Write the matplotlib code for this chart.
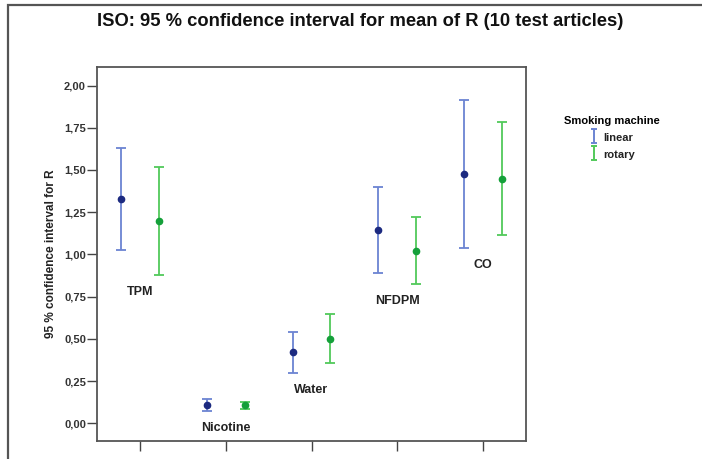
import matplotlib
matplotlib.use("Agg")
import matplotlib.pyplot as plt
from matplotlib.path import Path
from matplotlib.lines import Line2D
from matplotlib.patches import Rectangle
import numpy as np

categories = ["TPM", "Nicotine", "Water", "NFDPM", "CO"]
series_names = ["linear", "rotary"]
linear_mean = [1.33, 0.108, 0.420, 1.145, 1.479]
linear_low = [1.027, 0.073, 0.300, 0.890, 1.039]
linear_high = [1.629, 0.142, 0.539, 1.400, 1.917]
rotary_mean = [1.200, 0.108, 0.501, 1.021, 1.449]
rotary_low = [0.880, 0.083, 0.357, 0.825, 1.114]
rotary_high = [1.518, 0.128, 0.646, 1.222, 1.783]
yticks = [0.0, 0.25, 0.5, 0.75, 1.0, 1.25, 1.5, 1.75, 2.0]
ytick_labels = ["0,00", "0,25", "0,50", "0,75", "1,00", "1,25", "1,50", "1,75", "2,00"]

FONT = ["Liberation Sans", "DejaVu Sans"]
plt.rcParams["font.family"] = FONT

W, H = 702, 459
fig = plt.figure(figsize=(W / 100, H / 100), dpi=100)
fig.patch.set_facecolor("white")

# outer frame
fig.patches.append(Rectangle((8 / W, -0.2), 1.2, 1.2 - 5 / H, transform=fig.transFigure,
                             fill=False, edgecolor="#555555", linewidth=1.6))

ax = fig.add_axes([97 / W, 18 / H, (526 - 97) / W, (441 - 67) / H])

x = np.arange(1, len(categories) + 1)
off = 0.22
blue_line, blue_mark = "#6b84d2", "#1c2a80"
green_line, green_mark = "#52c95a", "#15a03a"

for xs, m, lo, hi, lc, mc in [
    (x - off, linear_mean, linear_low, linear_high, blue_line, blue_mark),
    (x + off, rotary_mean, rotary_low, rotary_high, green_line, green_mark),
]:
    m = np.array(m); lo = np.array(lo); hi = np.array(hi)
    ax.errorbar(xs, m, yerr=[m - lo, hi - m], fmt="o", color=mc, ecolor=lc,
                elinewidth=1.3, capsize=3.5, capthick=1.3, markersize=4.5, zorder=3)

# category labels under each pair
mins = np.minimum(linear_low, rotary_low)
for xi, cat, mn in zip(x, categories, mins):
    ax.annotate(cat, (xi, mn), xytext=(0, -12.5), textcoords="offset points",
                ha="center", va="center", fontsize=9, fontweight="bold", color="#222222")

ax.set_xlim(0.5, len(categories) + 0.5)
ax.set_ylim(-0.105, 2.11)
ax.set_xticks(x)
ax.set_xticklabels([])
ax.set_yticks(yticks)
ax.set_yticklabels(ytick_labels)
ax.tick_params(axis="both", direction="out", length=7, width=1.0, color="#444444",
               labelsize=8, labelcolor="#333333", pad=1)
for lab in ax.get_yticklabels():
    lab.set_fontweight("bold")
for s in ax.spines.values():
    s.set_color("#555555")
    s.set_linewidth(1.3)

ax.set_ylabel("95 % confidence interval for R", fontsize=8.5, fontweight="bold", color="#222222")
ax.yaxis.set_label_coords(-(97 - 57) / (526 - 97), 0.5)

fig.text(360 / W, 1 - 22 / H, "ISO: 95 % confidence interval for mean of R (10 test articles)",
         ha="center", va="center", fontsize=13.2, fontweight="bold", color="#111111")

# legend
ipath = Path([(-0.5, -1), (0.5, -1), (0, -1), (0, 1), (-0.5, 1), (0.5, 1)],
             [Path.MOVETO, Path.LINETO, Path.MOVETO, Path.LINETO, Path.MOVETO, Path.LINETO])
handles = [Line2D([], [], linestyle="None", marker=ipath, markersize=10, markeredgewidth=1.4,
                  color=c, markerfacecolor="none") for c in (blue_line, green_line)]
leg = fig.legend(handles, series_names, title="Smoking machine", frameon=False,
                 loc="upper center", bbox_to_anchor=(612 / W, 1 - 107 / H),
                 handlelength=0.8, handleheight=1.0, handletextpad=0.4, labelspacing=0.55,
                 borderpad=0.3, prop={"size": 8, "weight": "bold"})
leg.get_title().set_fontweight("bold")
leg.get_title().set_fontsize(8)
for t in leg.get_texts():
    t.set_color("#222222")

fig.savefig("out.png", dpi=100, facecolor="white")
